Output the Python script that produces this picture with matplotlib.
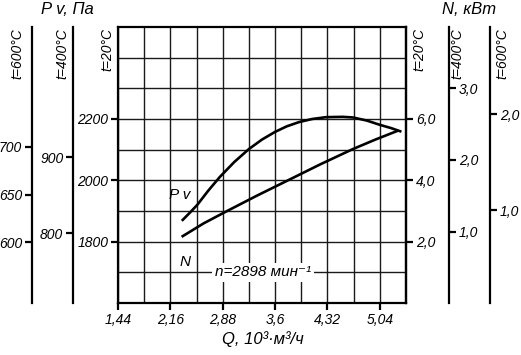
import matplotlib
matplotlib.use('Agg')
import matplotlib.pyplot as plt

plt.rcParams['font.family'] = ['Liberation Sans', 'DejaVu Sans']
plt.rcParams['font.style'] = 'italic'

# Flow, 10^3 m3/h
q_ticks = [1.44, 2.16, 2.88, 3.6, 4.32, 5.04]
q_labels = ['1,44', '2,16', '2,88', '3,6', '4,32', '5,04']
q_grid = [1.80, 2.52, 3.24, 3.96, 4.68]

# Pressure at t=20°C, Pa
p_ticks = [1800, 2000, 2200]
p_grid = [1700, 1900, 2100, 2300, 2400]

# Pressure at t=400°C / 600°C
p400_ticks = [800, 900]
p600_ticks = [600, 650, 700]

# Power, kW
n20_ticks = [2, 4, 6]
n20_labels = ['2,0', '4,0', '6,0']
n400_ticks = [1, 2, 3]
n400_labels = ['1,0', '2,0', '3,0']
n600_ticks = [1, 2]
n600_labels = ['1,0', '2,0']

# Curves
q_pv = [2.33, 2.43, 2.53, 2.68, 2.84, 3.04, 3.24, 3.42, 3.60, 3.76, 3.93,
        4.11, 4.30, 4.53, 4.67, 4.86, 5.04, 5.20, 5.32]
pv = [1871, 1895, 1920, 1966, 2011, 2060, 2102, 2133, 2158, 2176, 2190,
      2200, 2206, 2207, 2205, 2195, 2181, 2170, 2160]
q_n = [2.33, 2.62, 2.94, 3.35, 3.76, 4.22, 4.67, 4.98, 5.28]
n_kw = [2.18, 2.60, 3.0, 3.50, 3.98, 4.52, 5.02, 5.33, 5.61]

W, H = 521, 355
fig = plt.figure(figsize=(W / 100, H / 100), dpi=100)
ax = fig.add_axes([118 / W, 1 - 303 / H, 288 / W, 276 / H])

SPW = 1.6
ax.set_xlim(1.44, 5.40)
ax.set_ylim(1600, 2500)
ax.set_xticks(q_ticks, q_labels, fontsize=10)
ax.set_xticks(q_grid, minor=True)
ax.set_yticks(p_ticks, [str(v) for v in p_ticks], fontsize=10)
ax.set_yticks(p_grid, minor=True)
ax.grid(True, which='both', color='#1a1a1a', lw=1.0)
ax.tick_params(which='major', length=5, width=SPW, pad=2)
ax.tick_params(which='minor', length=0)
for s in ax.spines.values():
    s.set_linewidth(SPW)
ax.plot(q_pv, pv, color='black', lw=1.9, solid_joinstyle='round')


def side_axis(pos, side, lim, ticks, labels):
    a = ax.twinx()
    a.set_ylim(lim)
    for s in a.spines.values():
        s.set_visible(False)
    a.spines[side].set_visible(True)
    a.spines[side].set_position(('axes', pos))
    a.spines[side].set_linewidth(SPW)
    a.yaxis.set_ticks_position(side)
    a.yaxis.set_label_position(side)
    a.set_yticks(ticks, labels, fontsize=10)
    a.tick_params(length=5, width=SPW, pad=2)
    return a


side_axis(-0.156, 'left', (708, 1071), p400_ticks, [str(v) for v in p400_ticks])
side_axis(-0.2986, 'left', (536, 826), p600_ticks, [str(v) for v in p600_ticks])
ax_n = side_axis(1.0, 'right', (0, 9), n20_ticks, n20_labels)
ax_n.plot(q_n, n_kw, color='black', lw=1.9, solid_joinstyle='round')
side_axis(1.149, 'right', (0.01, 3.85), n400_ticks, n400_labels)
side_axis(1.2917, 'right', (0.03, 2.91), n600_ticks, n600_labels)

ax.text(3.434, 1700, 'n=2898 мин⁻¹', fontsize=11, ha='center', va='center',
        bbox=dict(facecolor='white', edgecolor='none', pad=2))


def ftext(x, y, s, **kw):
    fig.text(x / W, 1 - y / H, s, **kw)


ftext(180, 195, 'P v', fontsize=11, ha='center', va='center')
ftext(185, 262, 'N', fontsize=11, ha='center', va='center')
ftext(67, 10, 'P v, Па', fontsize=12, ha='center', va='center')
ftext(469, 10, 'N, кВт', fontsize=12, ha='center', va='center')
ftext(263, 339, 'Q, 10³·м³/ч', fontsize=12, ha='center', va='center')

for x, s in [(17, 't=600°C'), (62, 't=400°C'), (107, 't=20°C'),
             (419, 't=20°C'), (457, 't=400°C'), (502, 't=600°C')]:
    ftext(x, 28, s, fontsize=10, rotation=90, ha='center', va='top')

fig.savefig('out.png', dpi=100)
